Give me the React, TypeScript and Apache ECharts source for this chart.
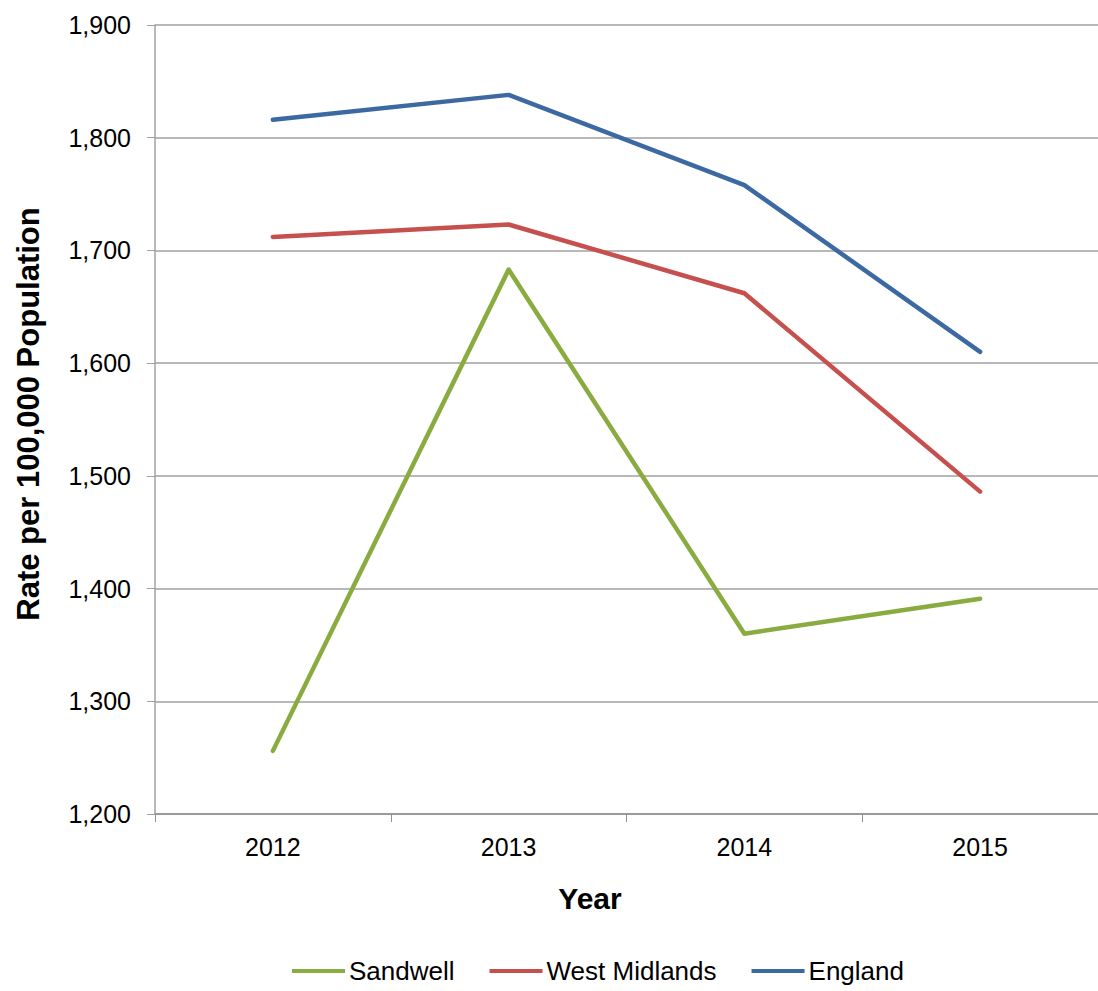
import React, { useEffect, useRef } from "react";
import * as echarts from "echarts";

const years = ["2012", "2013", "2014", "2015"];
const sandwell = [1256, 1683, 1360, 1391];
const westMidlands = [1712, 1723, 1662, 1486];
const england = [1816, 1838, 1758, 1610];
const seriesNames = ["Sandwell", "West Midlands", "England"];
const colors = ["#8AAB3F", "#C6504D", "#3D69A3"];

const FONT = "'Liberation Sans', Arial, sans-serif";

export default function App() {
  const ref = useRef<HTMLDivElement>(null);
  useEffect(() => {
    if (!ref.current) return;
    const chart = echarts.init(ref.current, null, { renderer: "svg" });
    const data = [sandwell, westMidlands, england];
    chart.setOption({
      animation: false,
      backgroundColor: "#ffffff",
      textStyle: { fontFamily: FONT },
      grid: { left: 155, top: 25, right: -7, bottom: 177 },
      legend: {
        data: seriesNames,
        left: 292,
        top: 958,
        padding: 0,
        icon: "rect",
        itemWidth: 53,
        itemHeight: 4,
        itemGap: 35,
        textStyle: { fontSize: 26, color: "#000", fontFamily: FONT, padding: [0, 0, 0, -1] },
      },
      xAxis: {
        type: "category",
        data: years,
        boundaryGap: true,
        axisLine: { lineStyle: { color: "#909090", width: 1.5 } },
        axisTick: { show: true, length: 8, alignWithLabel: false, lineStyle: { color: "#909090" } },
        axisLabel: { fontSize: 25, color: "#000", margin: 20, fontFamily: FONT },
        splitLine: { show: false },
      },
      yAxis: {
        type: "value",
        min: 1200,
        max: 1900,
        interval: 100,
        axisLine: { show: true, lineStyle: { color: "#a0a0a0", width: 1.5 } },
        axisTick: { show: true, length: 8, lineStyle: { color: "#a0a0a0" } },
        axisLabel: {
          fontSize: 25,
          color: "#000",
          margin: 24,
          fontFamily: FONT,
          formatter: (v: number) => v.toLocaleString("en-US"),
        },
        splitLine: { show: true, lineStyle: { color: "#a0a0a0", width: 1.5 } },
      },
      graphic: [
        {
          type: "text",
          x: 590,
          y: 898,
          style: {
            text: "Year",
            fontSize: 30,
            fontWeight: "bold",
            fontFamily: FONT,
            fill: "#000",
            textAlign: "center",
            textVerticalAlign: "middle",
          },
        },
        {
          type: "text",
          x: 28,
          y: 414,
          rotation: Math.PI / 2,
          style: {
            text: "Rate per 100,000 Population",
            fontSize: 31,
            fontWeight: "bold",
            fontFamily: FONT,
            fill: "#000",
            textAlign: "center",
            textVerticalAlign: "middle",
          },
        },
      ],
      series: seriesNames.map((name, i) => ({
        name,
        type: "line",
        data: data[i],
        symbol: "none",
        color: colors[i],
        lineStyle: { width: 4.5, color: colors[i], cap: "round", join: "round" },
      })),
    });
    return () => chart.dispose();
  }, []);
  return (
    <div
      ref={ref}
      style={{ position: "absolute", left: 0, top: 0, width: 1098, height: 991 }}
    />
  );
}
